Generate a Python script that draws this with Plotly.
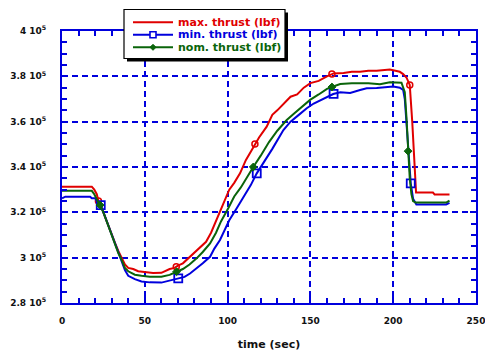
import numpy as np
import plotly.graph_objects as go

# ---------------- data (time in s, thrust in 1e5 lbf) ----------------
red_t = [0, 18, 19.5, 21, 22, 24, 26, 28, 30, 32, 34, 36, 38, 40, 43, 46, 50, 55, 60, 65, 68, 70,
         73, 77, 80, 84, 87, 90, 93, 95.5, 98, 101, 104, 107.5, 111, 115.5, 119, 123.6, 127, 130,
         134, 138, 142, 146, 150, 155, 160, 164, 170, 175, 180, 185, 190, 195, 198, 204, 206, 208,
         210, 211.5, 213, 213.8, 218, 224, 225, 234]
red_v = [3.313, 3.313, 3.30, 3.28, 3.25, 3.22, 3.18, 3.14, 3.10, 3.065, 3.03, 3.00, 2.97, 2.955,
         2.95, 2.94, 2.935, 2.932, 2.933, 2.95, 2.955, 2.965, 2.975, 3.003, 3.02, 3.05, 3.07, 3.11,
         3.16, 3.205, 3.25, 3.30, 3.33, 3.372, 3.43, 3.49, 3.53, 3.578, 3.63, 3.65, 3.68, 3.71,
         3.72, 3.75, 3.77, 3.78, 3.80, 3.813, 3.815, 3.82, 3.82, 3.825, 3.825, 3.828, 3.83, 3.82,
         3.81, 3.795, 3.762, 3.60, 3.36, 3.287, 3.287, 3.287, 3.279, 3.279]

min_t = [0, 2, 17, 18, 20, 21, 23.4, 26, 28, 30, 32, 34, 36, 38, 40, 44, 48, 53, 60, 65, 70.2, 74,
         77.3, 81, 85, 89.4, 92, 95.4, 98, 101, 105.5, 110, 114, 117.6, 122, 127, 133.7, 138, 143,
         147.8, 152, 158, 163.8, 168, 174, 180, 184, 190, 195, 200, 204, 206, 207, 208, 209, 210.6,
         212, 214, 232, 234]
min_v = [3.262, 3.269, 3.269, 3.262, 3.262, 3.25, 3.232, 3.18, 3.14, 3.10, 3.06, 3.02, 2.98, 2.945,
         2.92, 2.905, 2.895, 2.891, 2.89, 2.90, 2.909, 2.915, 2.93, 2.95, 2.975, 3.004, 3.04,
         3.078, 3.12, 3.165, 3.218, 3.27, 3.32, 3.372, 3.42, 3.48, 3.563, 3.60, 3.63, 3.659, 3.68,
         3.70, 3.722, 3.73, 3.727, 3.74, 3.747, 3.748, 3.752, 3.755, 3.750, 3.74, 3.70, 3.60,
         3.48, 3.328, 3.26, 3.235, 3.235, 3.242]

nom_t = [0, 18, 19.5, 21, 23, 25, 28, 30, 32, 34, 36, 38, 40, 44, 48, 53, 60, 65, 69.2, 73, 77,
         81.3, 85, 89.4, 93, 96, 100.4, 104, 108, 112, 115.5, 120, 125, 130, 135.7, 140, 145,
         149.8, 155, 160, 163.8, 168, 175, 185, 192, 198, 205, 207, 208, 209, 210, 211, 212,
         213.5, 232, 234]
nom_v = [3.295, 3.295, 3.28, 3.26, 3.232, 3.20, 3.14, 3.10, 3.06, 3.02, 2.99, 2.955, 2.94, 2.925,
         2.92, 2.916, 2.916, 2.924, 2.938, 2.95, 2.97, 2.997, 3.025, 3.063, 3.11, 3.16, 3.218,
         3.27, 3.31, 3.36, 3.40, 3.45, 3.51, 3.56, 3.607, 3.635, 3.665, 3.696, 3.72, 3.745, 3.755,
         3.766, 3.77, 3.77, 3.765, 3.774, 3.772, 3.73, 3.62, 3.47, 3.35, 3.28, 3.25, 3.243,
         3.243, 3.252]

red_mark_t = [22, 69, 116.5, 163, 210]
min_mark_t = [23.4, 70.2, 117.6, 164, 210.6]
nom_mark_t = [23, 69.2, 115.5, 163, 209]

names = ["max. thrust (lbf)", "min. thrust (lbf)", "nom. thrust (lbf)"]
y_tickvals = [2.8, 3.0, 3.2, 3.4, 3.6, 3.8, 4.0]
y_ticklabels = ["2.8 10<sup>5</sup>", "3 10<sup>5</sup>", "3.2 10<sup>5</sup>", "3.4 10<sup>5</sup>",
                "3.6 10<sup>5</sup>", "3.8 10<sup>5</sup>", "4 10<sup>5</sup>"]
x_tickvals = [0, 50, 100, 150, 200, 250]

# ---------------- styling ----------------
RED = "#e00000"
BLUE = "#0000dd"
GREEN = "#0a640a"
AX = "#0000dd"
FONT = "DejaVu Sans"

W, H = 485, 355
L, R, T, B = 62, 9, 31, 52
PW, PH = W - L - R, H - T - B


def px(x):
    return (x - L) / PW


def py(y):
    return (H - B - y) / PH


fig = go.Figure()
series = [(red_t, red_v, red_mark_t, RED, "circle-open", 6, 1.5),
          (min_t, min_v, min_mark_t, BLUE, "square-open", 8, 1.8),
          (nom_t, nom_v, nom_mark_t, GREEN, "diamond", 6, 1)]
for (t, v, mt, col, sym, ms, mlw), nm in zip(series, names):
    yv = [val * 1e5 for val in v]
    fig.add_trace(go.Scatter(x=t, y=yv, mode="lines", name=nm, showlegend=False,
                             line=dict(color=col, width=2, shape="linear")))
    fig.add_trace(go.Scatter(x=mt, y=np.interp(mt, t, yv), mode="markers", showlegend=False,
                             marker=dict(symbol=sym, size=ms, color=col,
                                         line=dict(color=col, width=mlw))))

axis_common = dict(showline=True, linecolor=AX, linewidth=2, mirror="allticks",
                   ticks="inside", tickcolor=AX, tickwidth=2, ticklen=6,
                   showgrid=True, gridcolor=AX, gridwidth=1.6, griddash="6px,4px",
                   zeroline=False, automargin=False, ticklabeloverflow="allow",
                   tickfont=dict(family=FONT, size=9, color="#111111"))

fig.update_xaxes(range=[0, 250], tickvals=x_tickvals,
                 ticktext=[f"<b>{v}</b>" for v in x_tickvals],
                 ticklabelstandoff=8,
                 minor=dict(dtick=10, tick0=0, ticks="inside", ticklen=5, tickcolor=AX,
                            tickwidth=2, showgrid=False),
                 title=dict(text="<b>time (sec)</b>", font=dict(family=FONT, size=11, color="#111111"),
                            standoff=16),
                 **axis_common)
fig.update_yaxes(range=[2.8e5, 4.0e5], tickvals=[v * 1e5 for v in y_tickvals],
                 ticktext=[f"<b>{s}</b>" for s in y_ticklabels],
                 ticklabelstandoff=12,
                 minor=dict(dtick=5000, tick0=280000, ticks="inside", ticklen=5, tickcolor=AX,
                            tickwidth=2, showgrid=False),
                 **axis_common)

# ---------------- legend (drawn box) ----------------
shapes = []
bx0, bx1, by0, by1 = 124, 285, 9.5, 58.5
shapes.append(dict(type="rect", xref="paper", yref="paper", layer="above",
                   x0=px(bx0 + 3), x1=px(bx1 + 3), y0=py(by1 + 3), y1=py(by0 + 3),
                   fillcolor="black", line=dict(width=0)))
shapes.append(dict(type="rect", xref="paper", yref="paper", layer="above",
                   x0=px(bx0), x1=px(bx1), y0=py(by1), y1=py(by0),
                   fillcolor="white", line=dict(color="black", width=1.2)))
rows = [22.3, 34.8, 47.3]
cols = [RED, BLUE, GREEN]
for ry, c in zip(rows, cols):
    shapes.append(dict(type="line", xref="paper", yref="paper", layer="above",
                       x0=px(133), x1=px(173), y0=py(ry), y1=py(ry),
                       line=dict(color=c, width=2)))
# blue square
shapes.append(dict(type="rect", xref="paper", yref="paper", layer="above",
                   x0=px(150), x1=px(156), y0=py(rows[1] + 3), y1=py(rows[1] - 3),
                   fillcolor="white", line=dict(color=BLUE, width=1.6)))
# green diamond
cx, cy, r = 153, rows[2], 3
shapes.append(dict(type="path", xref="paper", yref="paper", layer="above",
                   path=f"M {px(cx - r)} {py(cy)} L {px(cx)} {py(cy - r)} L {px(cx + r)} {py(cy)} "
                        f"L {px(cx)} {py(cy + r)} Z",
                   fillcolor=GREEN, line=dict(color=GREEN, width=1)))

annotations = []
for ry, c, nm in zip(rows, cols, names):
    annotations.append(dict(xref="paper", yref="paper", x=px(176), y=py(ry), xanchor="left",
                            yanchor="middle", showarrow=False, text=f"<b>{nm}</b>",
                            font=dict(family=FONT, size=11, color=c)))

fig.update_layout(width=W, height=H, margin=dict(l=L, r=R, t=T, b=B),
                  paper_bgcolor="white", plot_bgcolor="white", showlegend=False,
                  shapes=shapes, annotations=annotations,
                  font=dict(family=FONT, size=10, color="black"))

fig.write_html("out.html")
